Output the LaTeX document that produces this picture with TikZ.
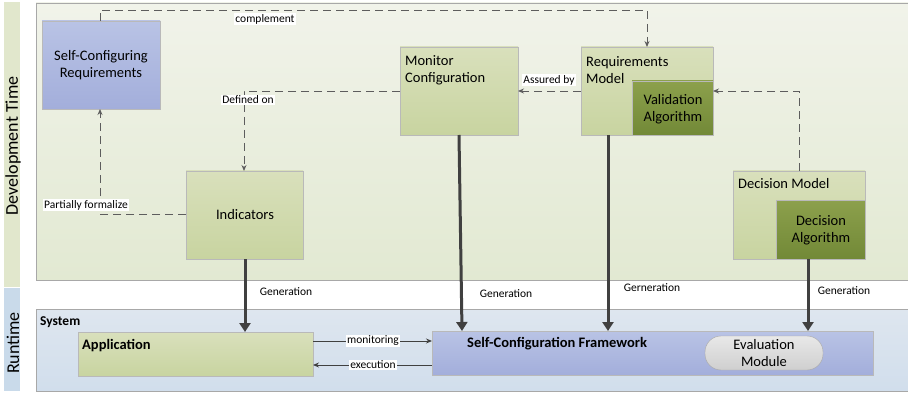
\documentclass[tikz,border=0pt]{standalone}
\usepackage{fontspec}
\setmainfont{Carlito}
\usetikzlibrary{arrows.meta,positioning}
\definecolor{devband}{HTML}{E1E7CC}
\definecolor{runband}{HTML}{C9DAEA}
\definecolor{devtop}{HTML}{F1F3EA}
\definecolor{devbot}{HTML}{E2E9D2}
\definecolor{runtop}{HTML}{DEE6EF}
\definecolor{runbot}{HTML}{D1DEEC}
\definecolor{greentop}{HTML}{D9E0BC}
\definecolor{greenbot}{HTML}{C8D4A0}
\definecolor{darktop}{HTML}{8CA04C}
\definecolor{darkbot}{HTML}{728937}
\definecolor{bluetop}{HTML}{B9C3E5}
\definecolor{bluebot}{HTML}{A3AEDB}
\definecolor{graytop}{HTML}{E8E8E8}
\definecolor{graybot}{HTML}{CFCFCF}
\definecolor{edgegray}{HTML}{A8A8A8}
\definecolor{linegray}{HTML}{404040}
\tikzset{
  panel/.style={draw=edgegray,line width=0.8pt},
  greenbox/.style={draw=edgegray!80,top color=greentop,bottom color=greenbot,line width=0.6pt},
  darkbox/.style={draw=edgegray!80,top color=darktop,bottom color=darkbot,line width=0.6pt},
  bluebox/.style={draw=edgegray!80,top color=bluetop,bottom color=bluebot,line width=0.6pt},
  boxtext/.style={font=\fontsize{14.5}{17}\selectfont,align=left,inner sep=0pt},
  ctext/.style={font=\fontsize{14.5}{17}\selectfont,align=center,inner sep=0pt},
  boldtext/.style={font=\fontsize{14.5}{17}\selectfont\bfseries,inner sep=0pt},
  lbl/.style={font=\fontsize{11.5}{13}\selectfont,fill=white,inner sep=1pt},
  plainlbl/.style={font=\fontsize{11.5}{13}\selectfont,inner sep=1pt},
  sidelbl/.style={rotate=90,font=\fontsize{18}{20}\selectfont},
  dashlink/.style={draw=linegray!85,dash pattern=on 8pt off 5pt,line width=0.9pt,-{Stealth[length=6pt,width=5pt]}},
  genlink/.style={draw=linegray,line width=3pt,-{Triangle[length=9pt,width=11pt]}},
  thinlink/.style={draw=linegray,line width=0.9pt,-{Stealth[length=6pt,width=5pt]}},
}
\begin{document}
\begin{tikzpicture}[x=1pt,y=-1pt]
\useasboundingbox (0,0) rectangle (908,393);
% side bands
\fill[devband] (4,2) rectangle (20,287);
\fill[runband] (4,288) rectangle (20,391);
\node[sidelbl] (devlabel) at (13,146) {Development Time};
\node[sidelbl] (runlabel) at (13,343) {Runtime};
% panels
\path[panel,top color=devtop,bottom color=devbot] (36,3) rectangle (910,280);
\path[panel,top color=runtop,bottom color=runbot] (36,309) rectangle (910,391);
\node[anchor=west,font=\fontsize{13.5}{16}\selectfont\bfseries,inner sep=0pt] (system) at (40,322) {System};
% development time boxes
\draw[bluebox] (42,21) rectangle (160,109);
\node[ctext] (scr) at (101,65) {Self-Configuring\\Requirements};
\coordinate (scrtop) at (100,21);
\coordinate (scrbot) at (100,109);

\draw[greenbox] (400,47) rectangle (518,135);
\node[boxtext,anchor=west] (moncfg) at (405,70) {Monitor\\Configuration};
\coordinate (monleft) at (400,91);
\coordinate (monright) at (518,91);
\coordinate (monbot) at (459,135);

\draw[greenbox] (581,47) rectangle (713,135);
\node[boxtext,anchor=west] (reqmodel) at (586,70) {Requirements\\Model};
\draw[darkbox] (632,81) rectangle (713,135);
\node[ctext] (valalg) at (673,109) {Validation\\Algorithm};
\coordinate (reqtop) at (647,47);
\coordinate (reqleft) at (581,91);
\coordinate (valright) at (713,91);
\coordinate (reqbot) at (608,135);

\draw[greenbox] (733,171) rectangle (865,259);
\node[boxtext,anchor=west] (decmodel) at (738,184) {Decision Model};
\draw[darkbox] (776,200) rectangle (865,259);
\node[ctext] (decalg) at (821,230) {Decision\\Algorithm};
\coordinate (dectop) at (799,171);
\coordinate (decbot) at (808,259);

\draw[greenbox] (186,171) rectangle (303,259);
\node[ctext] (ind) at (245,215) {Indicators};
\coordinate (indtop) at (244,171);
\coordinate (indleft) at (186,214);
\coordinate (indbot) at (245,259);

% runtime boxes
\draw[greenbox] (78,332) rectangle (313,376);
\node[boldtext,anchor=west] (app) at (82,346) {Application};
\coordinate (apptop) at (245,332);
\coordinate (appr1) at (313,341);
\coordinate (appr2) at (313,365);

\draw[bluebox] (432,331) rectangle (873,375);
\node[boldtext,anchor=west] (scf) at (467,344) {Self-Configuration Framework};
\coordinate (scfl1) at (432,341);
\coordinate (scfl2) at (432,365);
\coordinate (scft1) at (462,331);
\coordinate (scft2) at (608,331);
\coordinate (scft3) at (808,331);
\node[draw=edgegray,top color=graytop,bottom color=graybot,rounded corners=16pt,minimum width=118pt,minimum height=34pt,inner sep=0pt,ctext] (evalmod) at (764,353) {Evaluation\\Module};

% dashed relations
\draw[dashlink] (scrtop) -- (100,10) -- (647,10) -- (reqtop);
\node[lbl] (lcomp) at (265,19) {complement};
\draw[dashlink] (monleft) -- (244,91) -- (indtop);
\node[lbl] (ldef) at (248,100) {Defined on};
\draw[dashlink] (reqleft) -- (monright);
\node[lbl] (lass) at (549,80) {Assured by};
\draw[dashlink] (dectop) -- (799,91) -- (valright);
\draw[dashlink] (indleft) -- (100,214) -- (scrbot);
\node[lbl] (lpart) at (86,205) {Partially formalize};

% generation
\draw[genlink] (indbot) -- (apptop);
\node[plainlbl] (g1) at (286,292) {Generation};
\draw[genlink] (monbot) -- (scft1);
\node[plainlbl] (g2) at (506,294) {Generation};
\draw[genlink] (reqbot) -- (scft2);
\node[plainlbl] (g3) at (652,288) {Gerneration};
\draw[genlink] (decbot) -- (scft3);
\node[plainlbl] (g4) at (844,291) {Generation};

% monitoring / execution
\draw[thinlink] (appr1) -- (scfl1);
\node[lbl] (lmon) at (373,341) {monitoring};
\draw[thinlink] (scfl2) -- (appr2);
\node[lbl] (lexe) at (373,365) {execution};
\end{tikzpicture}
\end{document}
